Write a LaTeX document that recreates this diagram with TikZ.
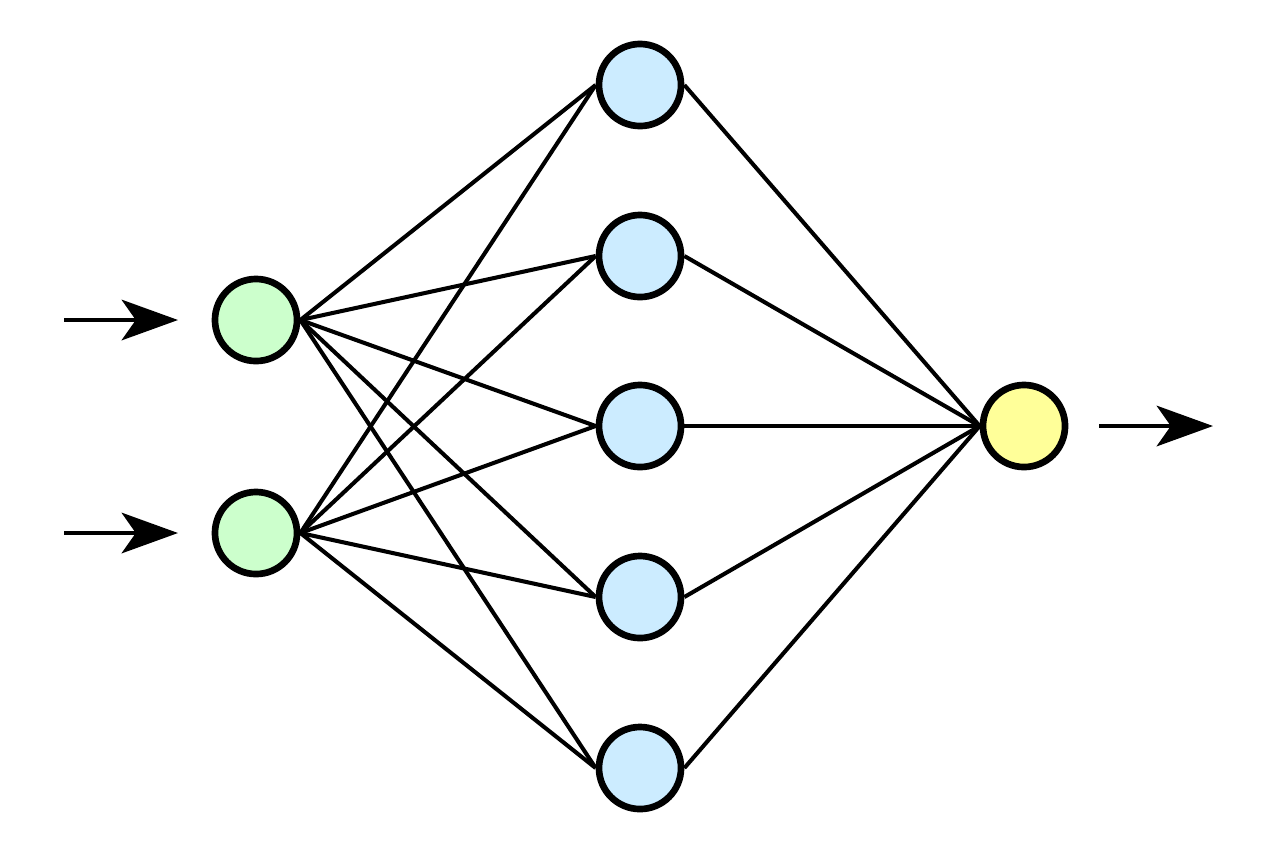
\documentclass[tikz,border=0pt]{standalone}
\usetikzlibrary{arrows.meta}

\definecolor{incol}{HTML}{CCFFCC}
\definecolor{hidcol}{HTML}{CCECFF}
\definecolor{outcol}{HTML}{FFFF99}

\begin{document}
\begin{tikzpicture}[x=0.01cm, y=-0.01cm,
  neuron/.style={circle, draw=black, line width=1.9pt, minimum size=0.82cm, inner sep=0pt},
  synapse/.style={black, line width=1.15pt},
  signal/.style={black, line width=1.4pt, -{Stealth[length=16pt, width=11.5pt, inset=4pt]}}]
\useasboundingbox (0,0) rectangle (1280,854);
% input layer
\node[neuron, fill=incol] (in1) at (256,320) {};
\node[neuron, fill=incol] (in2) at (256,533) {};
% hidden layer
\foreach \i/\y in {1/85,2/256,3/426,4/597,5/768} {
 \node[neuron, fill=hidcol] (h\i) at (640,\y) {};
}
% output layer
\node[neuron, fill=outcol] (out) at (1024,426) {};
% connections
\foreach \i in {1,2} {
 \foreach \j in {1,...,5} {
  \draw[synapse] (in\i.east) -- (h\j.west);
 }
}
\foreach \j in {1,...,5} {
 \draw[synapse] (h\j.east) -- (out.west);
}
% signals in and out
\coordinate (s1) at (64,320);
\coordinate (t1) at (178,320);
\coordinate (s2) at (64,533);
\coordinate (t2) at (178,533);
\coordinate (s3) at (1099,426);
\coordinate (t3) at (1213,426);
\draw[signal] (s1) -- (t1);
\draw[signal] (s2) -- (t2);
\draw[signal] (s3) -- (t3);
\end{tikzpicture}
\end{document}
